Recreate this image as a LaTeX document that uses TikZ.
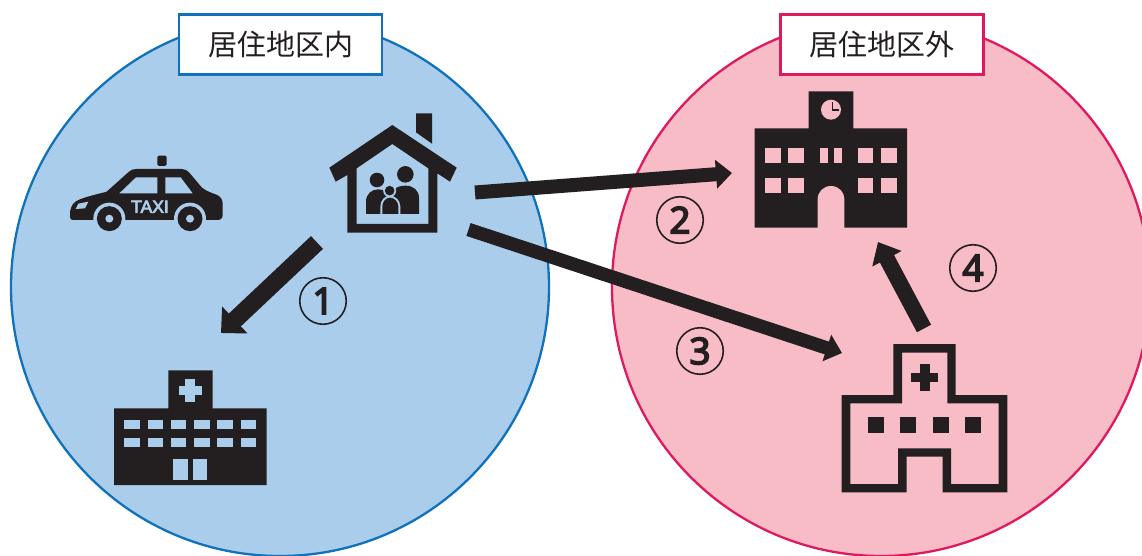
\documentclass[tikz,border=0pt]{standalone}
\usepackage{fontspec}
\usetikzlibrary{arrows.meta}
\newfontfamily\cjkf{Noto Sans CJK JP}
\newfontfamily\digf[FakeBold=4]{Noto Sans}
\newfontfamily\taxif[FakeBold=4]{Liberation Sans}
\definecolor{ink}{HTML}{231F20}
\definecolor{bluefill}{HTML}{ABCDEC}
\definecolor{blueline}{HTML}{1072BA}
\definecolor{pinkfill}{HTML}{F8BCC6}
\definecolor{pinkline}{HTML}{E0195F}
\tikzset{
  zone/.style={line width=2.3pt},
  tagbox/.style={draw,fill=white,line width=2.2pt,inner sep=0pt,minimum width=203pt,minimum height=60pt,text=ink,font=\cjkf\fontsize{29}{29}\selectfont},
  numcirc/.style={circle,draw=ink,line width=1.6pt,inner sep=0pt,minimum size=46.5pt,text=ink,font=\digf\fontsize{37}{37}\selectfont},
  link/.style={draw=ink,fill=none},
  zoomed/.style={x=0.33333pt,y=-0.33333pt}
}
\begin{document}
\begin{tikzpicture}[x=1pt,y=-1pt]
\useasboundingbox (0,0) rectangle (1142,556);
\fill[white] (0,0) rectangle (1142,556);
\clip (0,0) rectangle (1142,556);
% zones
\draw[zone,draw=blueline,fill=bluefill] (280,287) circle[radius=269pt];
\draw[zone,draw=pinkline,fill=pinkfill] (881,287) circle[radius=269pt];
\node[tagbox,draw=blueline] (intag) at (280.5,44.5) {居住地区内};
\node[tagbox,draw=pinkline] (outtag) at (882,44.5) {居住地区外};
% taxi
\begin{scope}[shift={(60,100)},zoomed]
\fill[ink] (30,352) -- (30,335) .. controls (33,318) and (40,305) .. (60,298) .. controls (85,288) and (115,282) .. (140,275) -- (207,215) .. controls (213,209) and (220,207) .. (230,207) -- (365,207) .. controls (375,207) and (382,211) .. (388,218) -- (425,262) .. controls (440,275) and (460,280) .. (472,285) .. controls (484,292) and (488,300) .. (488,312) -- (488,345) .. controls (488,355) and (482,360) .. (472,360) -- (40,360) .. controls (34,360) and (30,358) .. (30,352) -- cycle;
\fill[ink,rounded corners=1.5pt] (292,167) rectangle (320,198);
\fill[ink] (292,207) rectangle (316,290);
\fill[bluefill] (178,280) -- (228,232) -- (292,232) -- (292,280) -- cycle;
\fill[bluefill] (316,232) -- (362,232) -- (398,280) -- (316,280) -- cycle;
\fill[bluefill] (47,327) -- (55,311) -- (85,305) -- (75,325) -- cycle;
\fill[bluefill] (148,356) circle[radius=16pt];
\fill[bluefill] (390,356) circle[radius=16pt];
\fill[ink] (148,356) circle[radius=12.5pt];
\fill[ink] (390,356) circle[radius=12.5pt];
\fill[bluefill] (148,356) circle[radius=4pt];
\fill[bluefill] (390,356) circle[radius=4pt];
\node[text=bluefill,inner sep=0pt,font=\taxif\fontsize{17.5}{17.5}\selectfont] (taxilabel) at (270,320) {TAXI};
\end{scope}
% house
\begin{scope}[shift={(60,100)},zoomed]
\fill[ink] (1068,40) -- (1116,40) -- (1116,131) -- (1068,97) -- cycle;
\fill[ink,even odd rule] (997,75) -- (1190,203) -- (1170,245) -- (1132,220) -- (1132,398) -- (862,398) -- (862,225) -- (827,245) -- (808,203) -- cycle
  (997,132) -- (1105,205) -- (1105,372) -- (890,372) -- (890,205) -- cycle;
\fill[ink] (951,240) circle[radius=7.3pt];
\fill[ink] (1036,223) circle[radius=8.3pt];
\fill[ink] (918,342) -- (918,305) .. controls (918,282) and (935,268) .. (955,268) .. controls (975,268) and (990,280) .. (990,300) -- (990,342) -- cycle;
\fill[ink] (1077,342) -- (1077,295) .. controls (1077,270) and (1060,257) .. (1036,257) .. controls (1012,257) and (990,270) .. (990,295) -- (990,342) -- cycle;
\fill[bluefill] (961,345) -- (961,320) .. controls (961,300) and (975,287) .. (990,287) .. controls (1005,287) and (1021,300) .. (1021,320) -- (1021,345) -- cycle;
\fill[bluefill] (989,272) circle[radius=6.5pt];
\fill[ink] (989,272) circle[radius=4.8pt];
\fill[ink] (967,342) -- (967,320) .. controls (967,305) and (978,293) .. (990,293) .. controls (1003,293) and (1015,305) .. (1015,320) -- (1015,342) -- cycle;
\end{scope}
% clinic in zone
\begin{scope}[shift={(100,350)},zoomed]
\fill[ink] (205,61) -- (338,61) -- (338,175) -- (500,175) -- (500,405) -- (42,405) -- (42,175) -- (205,175) -- cycle;
\fill[bluefill] (256,87) rectangle (284,156);
\fill[bluefill] (236,107) rectangle (305,135);
\foreach \xa/\xb in {73/119,143/189,213/259,283/329,352/398,422/468}{
  \fill[bluefill] (\xa,210) rectangle (\xb,237);
  \fill[bluefill] (\xa,265) rectangle (\xb,291);
}
\fill[bluefill] (220,328) rectangle (264,390);
\fill[bluefill] (278,328) rectangle (322,390);
\end{scope}
% school
\begin{scope}[shift={(740,85)},zoomed]
\fill[ink] (206,19) -- (340,19) -- (340,130) -- (501,130) -- (501,428) -- (44,428) -- (44,130) -- (206,130) -- cycle;
\fill[pinkfill] (273,74) circle[radius=10pt];
\draw[ink,line width=1.1pt] (277,52) -- (277,75) -- (297,75);
\foreach \xa/\xb in {76/122,145/191,240/264,283/306,355/400,424/470}{
  \fill[pinkfill] (\xa,190) rectangle (\xb,234);
}
\foreach \xa/\xb in {76/122,145/191,355/400,424/470}{
  \fill[pinkfill] (\xa,279) rectangle (\xb,323);
}
\fill[pinkfill] (233,432) -- (233,343) .. controls (233,320) and (250,303) .. (273,303) .. controls (296,303) and (313,320) .. (313,343) -- (313,432) -- cycle;
\end{scope}
% hospital outside
\begin{scope}[shift={(830,335)},zoomed]
\fill[ink,even odd rule] (190,27) -- (377,27) -- (377,180) -- (532,180) -- (532,472) -- (338,472) -- (338,365) -- (230,365) -- (230,472) -- (35,472) -- (35,180) -- (190,180) -- cycle
 (216,53) -- (352,53) -- (352,205) -- (506,205) -- (506,447) -- (363,447) -- (363,340) -- (204,340) -- (204,447) -- (61,447) -- (61,205) -- (216,205) -- cycle;
\fill[ink] (269,86) rectangle (300,168);
\fill[ink] (243,113) rectangle (325,142);
\foreach \xa/\xb in {114/162,210/258,309/357,405/453}{
  \fill[ink] (\xa,246) rectangle (\xb,294);
}
\end{scope}
% connectors
\coordinate (s1) at (317,242.5);
\coordinate (e1) at (221,333);
\coordinate (s2) at (475,192.5);
\coordinate (e2) at (732,173);
\coordinate (s3) at (468.5,229.5);
\coordinate (e3) at (842,353);
\coordinate (s4) at (924,328.5);
\coordinate (e4) at (878,242);
\draw[link,line width=17.5pt,-{Triangle[length=19pt,width=36pt]}] (s1) -- (e1);
\draw[link,line width=14pt,-{Triangle[length=16pt,width=28pt]}] (s2) -- (e2);
\draw[link,line width=13.5pt,-{Triangle[length=16pt,width=27pt]}] (s3) -- (e3);
\draw[link,line width=16pt,-{Triangle[length=19pt,width=32pt]}] (s4) -- (e4);
% numbers
\node[numcirc] (n1) at (323,301) {1};
\node[numcirc] (n2) at (680,220) {2};
\node[numcirc] (n3) at (700,351) {3};
\node[numcirc] (n4) at (973,268) {4};
\end{tikzpicture}
\end{document}
